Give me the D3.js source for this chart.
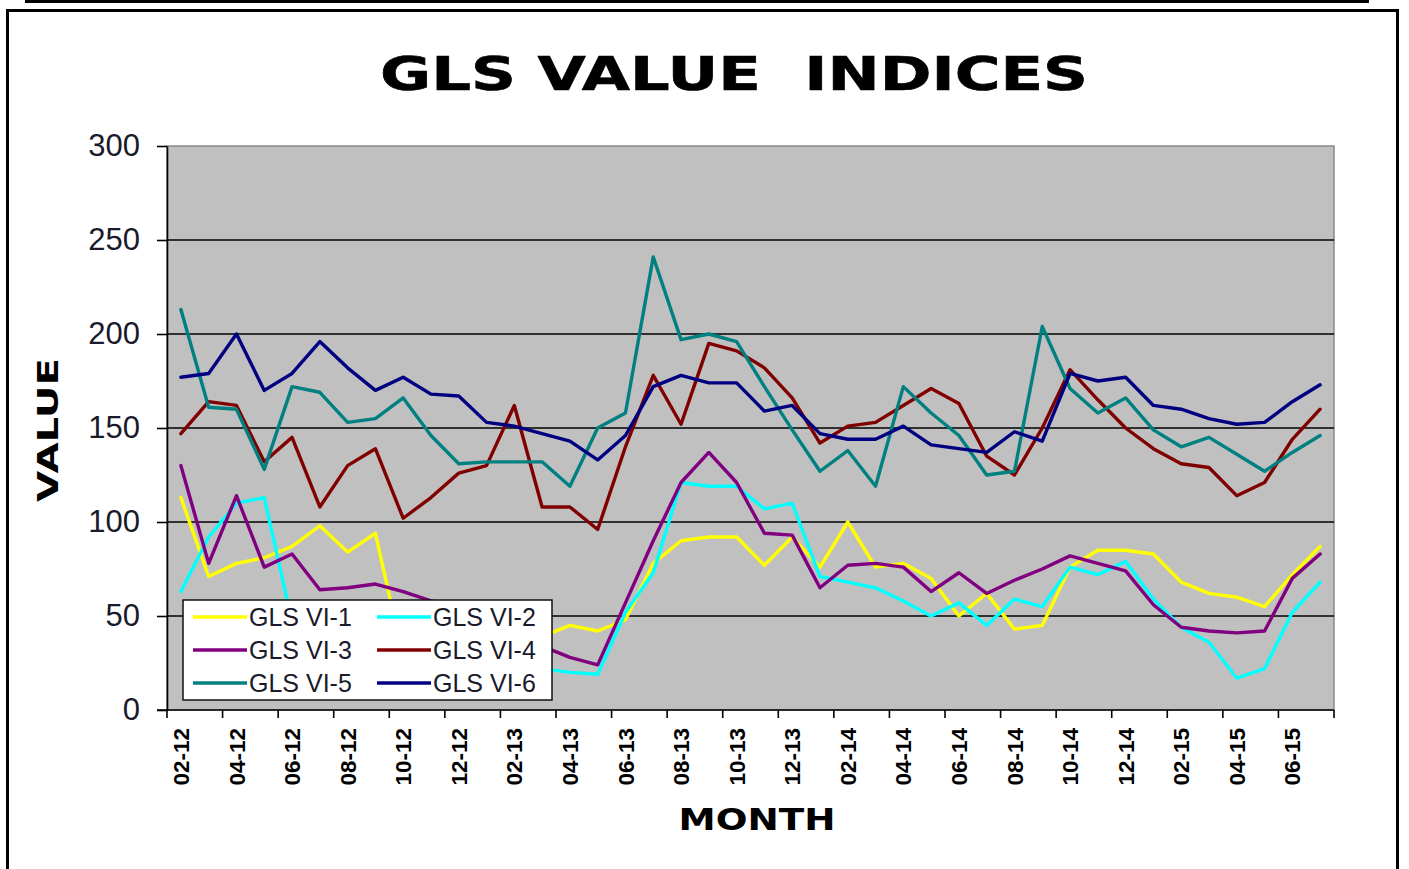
<!DOCTYPE html>
<html>
<head>
<meta charset="utf-8">
<script src="https://cdn.jsdelivr.net/npm/d3@7"></script>
<style>
  html, body { margin: 0; padding: 0; background: #ffffff; }
  svg { display: block; }
</style>
</head>
<body>
<svg id="chart" width="1409" height="869"></svg>
<script>
const months = ["02-12","03-12","04-12","05-12","06-12","07-12","08-12","09-12","10-12","11-12","12-12",
  "01-13","02-13","03-13","04-13","05-13","06-13","07-13","08-13","09-13","10-13","11-13","12-13",
  "01-14","02-14","03-14","04-14","05-14","06-14","07-14","08-14","09-14","10-14","11-14","12-14",
  "01-15","02-15","03-15","04-15","05-15","06-15","07-15"];
const tickLabels = months.filter((m, i) => i % 2 === 0);
const yTicks = [0, 50, 100, 150, 200, 250, 300];

const seriesNames = ["GLS VI-1","GLS VI-2","GLS VI-3","GLS VI-4","GLS VI-5","GLS VI-6"];
const seriesColors = ["#ffff00","#00ffff","#800080","#800000","#008080","#000080"];

const vi1 = [113,71,78,81,87,98,84,94,28,32,35,36,38,39,45,42,48,78,90,92,92,77,92,76,100,76,78,70,50,62,43,45,76,85,85,83,68,62,60,55,72,87];
const vi2 = [63,92,110,113,47,44,42,40,37,34,31,28,25,22,20,19,52,73,121,119,119,107,110,71,68,65,58,50,57,45,59,55,76,72,79,59,44,36,17,22,52,68];
const vi3 = [130,78,114,76,83,64,65,67,63,58,55,49,42,34,28,24,57,90,121,137,121,94,93,65,77,78,76,63,73,62,69,75,82,78,74,56,44,42,41,42,70,83];
const vi4 = [147,164,162,132,145,108,130,139,102,113,126,130,162,108,108,96,140,178,152,195,191,182,166,142,151,153,162,171,163,135,125,150,181,165,150,139,131,129,114,121,144,160];
const vi5 = [213,161,160,128,172,169,153,155,166,146,131,132,132,132,119,150,158,241,197,200,196,172,149,127,138,119,172,158,146,125,127,204,171,158,166,149,140,145,136,127,137,146];
const vi6 = [177,179,200,170,179,196,182,170,177,168,167,153,151,147,143,133,146,172,178,174,174,159,162,147,144,144,151,141,139,137,148,143,179,175,177,162,160,155,152,153,164,173];
const seriesValues = [vi1, vi2, vi3, vi4, vi5, vi6];

const svg = d3.select("#chart");
const plot = { left: 167, right: 1334, top: 146, bottom: 710 };

// outer frame
svg.append("rect").attr("x", 25).attr("y", 0).attr("width", 1344).attr("height", 3).attr("fill", "#000");
svg.append("rect").attr("x", 7.5).attr("y", 10.5).attr("width", 1390).attr("height", 870)
  .attr("fill", "#fff").attr("stroke", "#000").attr("stroke-width", 3);

const x = d3.scaleBand().domain(months).range([plot.left, plot.right]).padding(0);
const y = d3.scaleLinear().domain([0, 300]).range([plot.bottom, plot.top]);
const cx = m => x(m) + x.bandwidth() / 2;

// plot area
svg.append("rect").attr("x", plot.left).attr("y", plot.top)
  .attr("width", plot.right - plot.left).attr("height", plot.bottom - plot.top)
  .attr("fill", "#c0c0c0").attr("stroke", "#8a8a8a").attr("stroke-width", 1.5);

// gridlines
svg.append("g").selectAll("line").data(yTicks.filter(v => v > 0 && v < 300)).join("line")
  .attr("x1", plot.left).attr("x2", plot.right)
  .attr("y1", d => y(d)).attr("y2", d => y(d))
  .attr("stroke", "#000").attr("stroke-width", 1.6);

// y axis
const yAxis = svg.append("g").attr("transform", `translate(${plot.left},0)`)
  .call(d3.axisLeft(y).tickValues(yTicks).tickSize(10).tickPadding(17).tickSizeOuter(0));
yAxis.select(".domain").attr("stroke", "#000").attr("stroke-width", 1.6);
yAxis.selectAll(".tick line").attr("stroke", "#000").attr("stroke-width", 1.6);
yAxis.selectAll("text").attr("font-family", "Liberation Sans, Arial, sans-serif")
  .attr("font-size", 31).attr("fill", "#1a1a2a");

// x axis line
svg.append("line").attr("x1", plot.left - 10).attr("x2", plot.right)
  .attr("y1", plot.bottom).attr("y2", plot.bottom).attr("stroke", "#000").attr("stroke-width", 1.6);
// x tick marks every two months at category boundaries
const tickPos = months.filter((m, i) => i % 2 === 0).map(m => x(m)).concat([plot.right]);
svg.append("g").selectAll("line").data(tickPos).join("line")
  .attr("x1", d => d).attr("x2", d => d)
  .attr("y1", plot.bottom).attr("y2", plot.bottom + 8)
  .attr("stroke", "#000").attr("stroke-width", 1.6);
// x labels
const xAxis = svg.append("g").attr("transform", `translate(0,${plot.bottom})`)
  .call(d3.axisBottom(x).tickValues(tickLabels).tickSize(0));
xAxis.select(".domain").remove();
xAxis.selectAll("text")
  .attr("font-family", "Liberation Sans, Arial, sans-serif")
  .attr("font-size", 22.5).attr("font-weight", "bold").attr("fill", "#000")
  .attr("text-anchor", "end")
  .attr("transform", "rotate(-90)")
  .attr("x", -18).attr("y", 0).attr("dy", "0.36em");

// lines
const line = d3.line().x((d, i) => cx(months[i])).y(d => y(d));
seriesValues.forEach((vals, k) => {
  svg.append("path").datum(vals).attr("d", line)
    .attr("fill", "none").attr("stroke", seriesColors[k])
    .attr("stroke-width", 3.4).attr("stroke-linejoin", "round").attr("stroke-linecap", "round");
});

// legend
const lg = svg.append("g").attr("transform", "translate(183,600)");
lg.append("rect").attr("x", 0).attr("y", 0).attr("width", 369).attr("height", 100)
  .attr("fill", "#fff").attr("stroke", "#111").attr("stroke-width", 1.5);
seriesNames.forEach((name, k) => {
  const col = k % 2, row = Math.floor(k / 2);
  const gx = 10 + col * 184, gy = 17 + row * 33;
  lg.append("line").attr("x1", gx).attr("x2", gx + 54).attr("y1", gy).attr("y2", gy)
    .attr("stroke", seriesColors[k]).attr("stroke-width", 3.4);
  lg.append("text").attr("x", gx + 56).attr("y", gy).attr("dy", "0.36em")
    .attr("font-family", "Liberation Sans, Arial, sans-serif").attr("font-size", 25)
    .attr("fill", "#1a1a2a").text(name);
});

// titles
const headFont = "DejaVu Sans, Verdana, sans-serif";
svg.append("text").attr("x", 734).attr("y", 90).attr("text-anchor", "middle")
  .attr("font-family", headFont).attr("font-weight", "bold").attr("font-size", 46)
  .attr("textLength", 708).attr("lengthAdjust", "spacingAndGlyphs")
  .attr("fill", "#000").attr("stroke", "#000").attr("stroke-width", 0.6)
  .style("white-space", "pre").text("GLS VALUE  INDICES");

svg.append("text").attr("x", 757).attr("y", 830).attr("text-anchor", "middle")
  .attr("font-family", headFont).attr("font-weight", "bold").attr("font-size", 30)
  .attr("textLength", 157).attr("lengthAdjust", "spacingAndGlyphs")
  .attr("fill", "#000").text("MONTH");

svg.append("text").attr("transform", "translate(58,430) rotate(-90)").attr("text-anchor", "middle")
  .attr("font-family", headFont).attr("font-weight", "bold").attr("font-size", 29)
  .attr("textLength", 144).attr("lengthAdjust", "spacingAndGlyphs")
  .attr("fill", "#000").text("VALUE");
</script>
</body>
</html>
